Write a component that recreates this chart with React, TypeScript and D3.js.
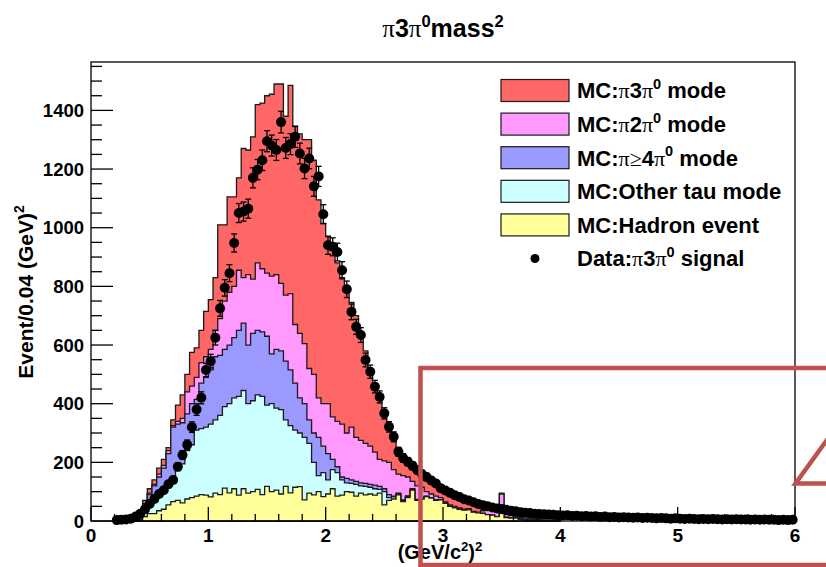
import React from 'react';
import * as d3 from 'd3';

// Histogram binning (GeV/c^2)^2
const BIN_WIDTH = 0.04;
const MC_FIRST_EDGE = 0.36;
const DATA_FIRST_EDGE = 0.2;

// MC components, one value per bin starting at MC_FIRST_EDGE
const hadronEvent = [
  0, 5, 15, 25, 25, 35, 40, 55, 66, 70, 62, 75, 80, 85, 90, 88,
  82, 95, 90, 112, 96, 110, 88, 110, 95, 100, 108, 90, 118, 100, 105, 92, 118, 96, 115, 117, 72, 95, 89, 100, 83,
  92, 110, 85, 88, 100, 98, 85, 95, 89, 92, 88, 95, 55, 70, 75, 89, 66, 80, 105, 70, 75, 83, 78, 70, 72,
  60, 50, 45, 40, 37, 38, 30, 28, 26, 22, 20, 15, 55, 12, 10, 10, 6, 5, 3, 2, 1, 1, 0, 0, 0,
];
const otherTau = [
  2, 5, 15, 25, 45, 55, 70, 70, 74, 105, 133, 165, 180, 225, 225, 232,
  248, 250, 270, 278, 304, 310, 337, 335, 305, 310, 322, 335, 277, 300, 280, 288, 227, 229, 195, 183, 213, 170, 111, 55, 82,
  48, 65, 80, 52, 30, 30, 40, 25, 29, 23, 22, 13, 45, 10, 7, 3, 4, 4, 3, 2, 2, 1, 1, 1, 0,
  0, 0, 0, 0, 0, 0, 0, 0, 0, 0, 0, 0, 0, 0, 0, 0, 0, 0, 0, 0, 0, 0, 0, 0, 0,
];
const piGe4Pi0 = [
  3, 10, 25, 40, 50, 60, 70, 105, 180, 155, 140, 125, 140, 105, 155, 170,
  185, 215, 205, 195, 200, 205, 225, 230, 200, 230, 220, 220, 235, 170, 200, 200, 200, 190, 160, 120, 115, 80, 100, 130, 90,
  90, 35, 20, 10, 15, 12, 10, 10, 10, 10, 12, 10, 10, 10, 3, 3, 2, 2, 2, 2, 1, 1, 1, 1, 0,
  1, 1, 1, 0, 0, 0, 0, 0, 0, 0, 0, 0, 0, 0, 0, 0, 0, 0, 0, 0, 0, 0, 0, 0, 0,
];
const pi2Pi0 = [
  1, 2, 5, 5, 5, 10, 10, 10, 5, 10, 15, 75, 60, 75, 70, 70,
  70, 90, 125, 165, 180, 175, 205, 155, 240, 185, 230, 215, 215, 265, 255, 230, 225, 260, 200, 220, 205, 175, 200, 135, 145,
  170, 145, 155, 180, 155, 180, 150, 145, 137, 130, 113, 92, 95, 110, 90, 65, 83, 64, 25, 46, 37, 15, 12, 13, 8,
  4, 4, 4, 5, 3, 4, 3, 2, 9, 18, 18, 15, 37, 10, 8, 5, 6, 5, 5, 4, 4, 3, 3, 2, 2,
];
const pi3Pi0 = [
  2, 8, 10, 15, 15, 20, 20, 10, 20, 55, 80, 60, 115, 100, 110, 155,
  170, 180, 320, 260, 325, 305, 315, 440, 425, 485, 540, 565, 605, 620, 650, 680, 610, 710, 675, 680, 695, 780, 730, 675, 615,
  570, 570, 540, 500, 500, 425, 415, 365, 315, 265, 235, 220, 175, 130, 115, 90, 70, 55, 50, 50, 40, 40, 38, 30, 25,
  30, 33, 30, 30, 30, 21, 25, 22, 13, 5, 4, 8, 3, 10, 10, 9, 8, 7, 6, 6, 5, 5, 5, 5, 4,
];

// Data counts, one value per bin starting at DATA_FIRST_EDGE
const dataSignal = [
  3, 4, 5, 8, 15, 25, 40, 58, 75, 92, 105, 125, 140, 185, 225, 260, 320, 380, 420, 515,
  545, 625, 725, 795, 845, 948, 1050, 1055, 1065, 1170, 1198, 1230, 1295, 1280, 1265, 1360, 1272, 1285, 1310, 1253, 1202, 1236, 1141, 1175, 1046,
  940, 935, 917, 855, 790, 713, 662, 634, 549, 509, 458, 423, 367, 321, 287, 236, 215, 202, 188, 174, 160, 150, 138, 128, 112,
  104, 96, 88, 82, 74, 70, 64, 58, 54, 50, 46, 43, 40, 38, 35, 33, 30, 28, 27, 25, 24, 23, 22, 21, 20,
  19, 20, 17, 18, 16, 17, 15, 16, 14, 15, 13, 14, 12, 13, 12, 11, 12, 10, 11, 10, 9, 10, 9, 8, 9,
  8, 7, 8, 7, 6, 7, 6, 7, 6, 5, 6, 5, 6, 5, 5, 4, 5, 4, 5, 4, 4, 3, 4, 3, 4,
];

const xTickValues = [0, 1, 2, 3, 4, 5, 6];
const yTickValues = [0, 200, 400, 600, 800, 1000, 1200, 1400];

type Seg = { t: string; sup?: boolean; greek?: boolean };

const SANS = "'Liberation Sans', Arial, Helvetica, sans-serif";
const GREEK = "'Liberation Serif', 'Times New Roman', serif";

const layerKeys = ['hadron', 'other', 'ge4', 'two', 'three'];
const layerColors: Record<string, string> = {
  three: '#ff6666',
  two: '#ff99ff',
  ge4: '#9999ff',
  other: '#ccffff',
  hadron: '#ffff99',
};

const legendItems: { key: string; segs: Seg[] }[] = [
  { key: 'three', segs: [{ t: 'MC:' }, { t: 'π', greek: true }, { t: '3' }, { t: 'π', greek: true }, { t: '0', sup: true }, { t: ' mode' }] },
  { key: 'two', segs: [{ t: 'MC:' }, { t: 'π', greek: true }, { t: '2' }, { t: 'π', greek: true }, { t: '0', sup: true }, { t: ' mode' }] },
  { key: 'ge4', segs: [{ t: 'MC:' }, { t: 'π≥', greek: true }, { t: '4' }, { t: 'π', greek: true }, { t: '0', sup: true }, { t: ' mode' }] },
  { key: 'other', segs: [{ t: 'MC:Other tau mode' }] },
  { key: 'hadron', segs: [{ t: 'MC:Hadron event' }] },
  { key: 'data', segs: [{ t: 'Data:' }, { t: 'π', greek: true }, { t: '3' }, { t: 'π', greek: true }, { t: '0', sup: true }, { t: ' signal' }] },
];

const titleSegs: Seg[] = [
  { t: 'π', greek: true }, { t: '3' }, { t: 'π', greek: true }, { t: '0', sup: true }, { t: 'mass' }, { t: '2', sup: true },
];
const xTitleSegs: Seg[] = [{ t: '(GeV/c' }, { t: '2', sup: true }, { t: ')' }, { t: '2', sup: true }];
const yTitleSegs: Seg[] = [{ t: 'Event/0.04 (GeV)' }, { t: '2', sup: true }];

function richText(segs: Seg[], fs: number) {
  let raised = false;
  return segs.map((s, i) => {
    let dy: number | undefined;
    if (s.sup && !raised) {
      dy = -0.42 * fs;
      raised = true;
    } else if (!s.sup && raised) {
      dy = 0.42 * fs;
      raised = false;
    }
    return (
      <tspan
        key={i}
        dy={dy}
        fontSize={s.sup ? fs * 0.66 : fs}
        fontFamily={s.greek ? GREEK : undefined}
        fontWeight={s.greek ? 'normal' : undefined}
      >
        {s.t}
      </tspan>
    );
  });
}

const W = 826;
const H = 567;
const frame = { left: 91, right: 795, top: 62, bottom: 521 };

export default function App() {
  const x = d3.scaleLinear().domain([0, 6]).range([frame.left, frame.right]);
  const y = d3.scaleLinear().domain([0, 1565]).range([frame.bottom, frame.top]);

  const rows = hadronEvent.map((_, i) => ({
    edge: MC_FIRST_EDGE + i * BIN_WIDTH,
    hadron: hadronEvent[i],
    other: otherTau[i],
    ge4: piGe4Pi0[i],
    two: pi2Pi0[i],
    three: pi3Pi0[i],
  }));
  const stacked = d3.stack<any>().keys(layerKeys)(rows);

  const area = d3
    .area<[number, number]>()
    .x((d) => x(d[0]))
    .y0(y(0))
    .y1((d) => y(d[1]))
    .curve(d3.curveStepAfter);

  const layerPaths = stacked.map((series) => {
    const pts: [number, number][] = series.map((s, i) => [rows[i].edge, s[1]]);
    const last = pts[pts.length - 1];
    pts.push([last[0] + BIN_WIDTH, last[1]]);
    return { key: series.key, d: area(pts) || '' };
  });

  const dataPoints = dataSignal.map((v, i) => ({
    cx: x(DATA_FIRST_EDGE + (i + 0.5) * BIN_WIDTH),
    v,
  }));

  const yMinor = d3.range(0, 1565, 50).filter((v) => v % 200 !== 0);
  const xMinor = d3.range(0, 6.0001, 0.2).filter((v) => Math.abs(v - Math.round(v)) > 1e-6);

  const legend = { swatchX: 501, swatchW: 68, swatchH: 22, textX: 577, rowY0: 90.5, rowStep: 33.6 };

  return (
    <svg
      width={W}
      height={H}
      viewBox={`0 0 ${W} ${H}`}
      style={{ position: 'absolute', left: 0, top: 0, background: '#fff' }}
      fontFamily={SANS}
      fontWeight="bold"
    >
      <rect x={0} y={0} width={W} height={H} fill="#fff" />

      {/* stacked MC histograms, drawn from the full sum down */}
      {layerPaths
        .slice()
        .reverse()
        .map((p) => (
          <path key={p.key} d={p.d} fill={layerColors[p.key]} stroke="#1a1a1a" strokeWidth={1.3} />
        ))}

      {/* frame */}
      <rect
        x={frame.left}
        y={frame.top}
        width={frame.right - frame.left}
        height={frame.bottom - frame.top}
        fill="none"
        stroke="#000"
        strokeWidth={1.3}
      />

      {/* y axis ticks */}
      {yTickValues.map((v) => (
        <line key={`ym${v}`} x1={frame.left} x2={frame.left + 22} y1={y(v)} y2={y(v)} stroke="#000" strokeWidth={1.3} />
      ))}
      {yMinor.map((v) => (
        <line key={`yn${v}`} x1={frame.left} x2={frame.left + 11} y1={y(v)} y2={y(v)} stroke="#000" strokeWidth={1.3} />
      ))}
      {yTickValues.map((v) => (
        <text key={`yl${v}`} x={frame.left - 7} y={y(v) + 6.5} textAnchor="end" fontSize={18.5}>
          {v}
        </text>
      ))}

      {/* x axis ticks */}
      {xTickValues.map((v) => (
        <line key={`xm${v}`} x1={x(v)} x2={x(v)} y1={frame.bottom} y2={frame.bottom - 14} stroke="#000" strokeWidth={1.3} />
      ))}
      {xMinor.map((v) => (
        <line key={`xn${v}`} x1={x(v)} x2={x(v)} y1={frame.bottom} y2={frame.bottom - 7} stroke="#000" strokeWidth={1.3} />
      ))}
      {xTickValues.map((v) => (
        <text key={`xl${v}`} x={x(v)} y={542} textAnchor="middle" fontSize={19}>
          {v}
        </text>
      ))}

      {/* data points with statistical errors */}
      {dataPoints.map((p, i) => {
        const e = Math.sqrt(p.v);
        const yt = y(p.v + e);
        const yb = y(Math.max(0, p.v - e));
        return (
          <g key={`d${i}`}>
            <line x1={p.cx} x2={p.cx} y1={yt} y2={yb} stroke="#000" strokeWidth={1.3} />
            <line x1={p.cx - 3} x2={p.cx + 3} y1={yt} y2={yt} stroke="#000" strokeWidth={1.3} />
            <line x1={p.cx - 3} x2={p.cx + 3} y1={yb} y2={yb} stroke="#000" strokeWidth={1.3} />
            <line x1={p.cx - 2.35} x2={p.cx + 2.35} y1={y(p.v)} y2={y(p.v)} stroke="#000" strokeWidth={1.3} />
            <circle cx={p.cx} cy={y(p.v)} r={5} fill="#000" />
          </g>
        );
      })}

      {/* legend */}
      {legendItems.map((item, i) => {
        const cy = legend.rowY0 + i * legend.rowStep;
        return (
          <g key={item.key}>
            {item.key === 'data' ? (
              <circle cx={legend.swatchX + legend.swatchW / 2} cy={cy} r={4.5} fill="#000" />
            ) : (
              <rect
                x={legend.swatchX}
                y={cy - legend.swatchH / 2}
                width={legend.swatchW}
                height={legend.swatchH}
                fill={layerColors[item.key]}
                stroke="#1a1a1a"
                strokeWidth={1.2}
              />
            )}
            <text x={legend.textX} y={cy + 7.8} fontSize={22}>
              {richText(item.segs, 22)}
            </text>
          </g>
        );
      })}

      {/* titles */}
      <text x={443} y={37} textAnchor="middle" fontSize={25}>
        {richText(titleSegs, 25)}
      </text>
      <text x={440} y={559} textAnchor="middle" fontSize={20}>
        {richText(xTitleSegs, 20)}
      </text>
      <text transform={`translate(32.5, 292) rotate(-90)`} textAnchor="middle" fontSize={21}>
        {richText(yTitleSegs, 21)}
      </text>

      {/* highlight box and callout pointer */}
      <rect x={420.5} y={368} width={440} height={197} fill="none" stroke="#c0504d" strokeWidth={4.5} />
      <path d="M 850 408 L 795.5 483.5 L 850 483.5" fill="none" stroke="#c0504d" strokeWidth={4.5} strokeLinejoin="miter" />
    </svg>
  );
}
